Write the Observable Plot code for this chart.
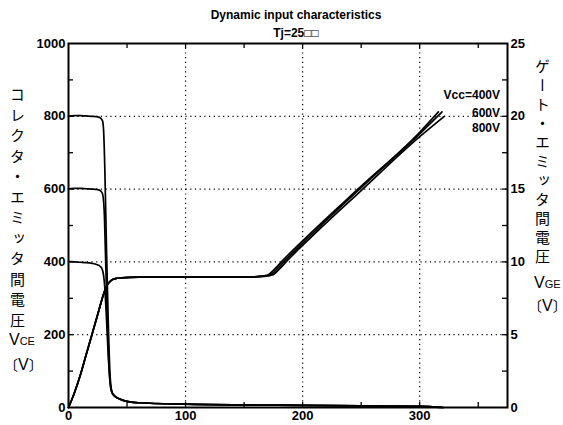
<!DOCTYPE html>
<html>
<head>
<meta charset="utf-8">
<script src="https://cdn.jsdelivr.net/npm/d3@7"></script>
<script src="https://cdn.jsdelivr.net/npm/@observablehq/plot@0.6"></script>
<style>
  body { margin: 0; background: #fff; }
  #wrap { position: relative; width: 563px; height: 425px; overflow: hidden; font-family: "Liberation Sans", Arial, sans-serif; }
  #chart { position: absolute; left: 0; top: 0; }
  .title { position: absolute; left: 0; width: 592px; text-align: center; font-weight: bold; font-size: 12px; color: #000; }
  .vlab { position: absolute; writing-mode: vertical-rl; text-orientation: upright; font-family: "Noto Sans CJK JP", sans-serif; font-size: 15px; color: #000; line-height: 1; }
  .unit { position: absolute; font-family: "Liberation Sans", Arial, sans-serif; font-size: 16px; color: #000; white-space: nowrap; }
  .unit small { font-size: 11px; }
  .br { font-family: "Noto Sans CJK JP", sans-serif; font-size: 14px; }
  .bo { margin-left: -7px; }
  .bc { letter-spacing: -6px; }
  .leg { position: absolute; font-weight: bold; font-size: 12px; text-align: right; color: #000; }
</style>
</head>
<body>
<div id="wrap">
  <div id="chart"></div>
  <div class="title" style="top:8px">Dynamic input characteristics</div>
  <div class="title" style="top:26px">Tj=25□□</div>
  <div class="vlab" style="left:10px; top:87px; letter-spacing:5.5px">コレクタ・エミッタ間電圧</div>
  <div class="unit" style="left:9px; top:331px">V<small>CE</small></div>
  <div class="unit" style="left:11px; top:354px"><span class="br bo">〔</span>V<span class="br bc">〕</span></div>
  <div class="vlab" style="left:535px; top:59px; letter-spacing:4px">ゲート・エミッタ間電圧</div>
  <div class="unit" style="left:534px; top:274px">V<small>GE</small></div>
  <div class="unit" style="left:535px; top:295px"><span class="br bo">〔</span>V<span class="br bc">〕</span></div>
  <div class="leg" style="left:390px; top:88px; width:110px">Vcc=400V</div>
  <div class="leg" style="left:390px; top:106px; width:110px">600V</div>
  <div class="leg" style="left:390px; top:121px; width:110px">800V</div>
</div>
<script>
// Axis ticks
const xTicks = [0, 100, 200, 300];
const xMinor = [50, 100, 150, 200, 250, 300, 350];
const yLeftTicks = [0, 200, 400, 600, 800, 1000];
const yRightTicks = [0, 5, 10, 15, 20, 25];
const yMinor = [100, 200, 300, 400, 500, 600, 700, 800, 900];
const vgeScale = 40; // right axis (V) -> left axis units

// Collector-emitter voltage (left axis)
const vce800_t = [0, 5, 10, 15, 20, 24, 27, 29, 30, 31, 32.5, 34, 35.5, 37, 39, 42, 45, 50, 60, 100, 150, 200, 250, 300, 320];
const vce800_v = [800, 802, 802, 801, 800, 799, 796, 788, 760, 660, 430, 230, 90, 45, 33, 26, 21, 17, 13, 9, 7, 6, 4.5, 3, 0];
const vce600_t = [0, 5, 10, 15, 20, 24, 27, 29, 30.5, 31.5, 33, 34.5, 36, 37.5, 40, 45, 50, 60, 100, 150, 200, 250, 300, 320];
const vce600_v = [601, 602, 602, 601, 600, 599, 596, 588, 540, 430, 260, 120, 55, 38, 30, 22, 17, 13, 9, 7, 6, 4.5, 3, 0];
const vce400_t = [0, 5, 10, 15, 20, 24, 27, 29, 31, 32.5, 34, 35.5, 37, 40, 45, 50, 60, 100, 150, 200, 250, 300, 320];
const vce400_v = [401, 400, 399, 398, 396, 393, 388, 378, 330, 240, 140, 70, 42, 30, 22, 17, 13, 9, 7, 6, 4.5, 3, 0];

// Gate-emitter voltage (right axis, V)
const vge400_t = [0, 5, 10, 15, 20, 25, 30, 33, 36, 40, 45, 60, 100, 150, 163, 170, 176, 183, 202, 250, 300, 316];
const vge400_v = [0, 1.0, 2.2, 3.6, 5.0, 6.4, 7.8, 8.4, 8.7, 8.85, 8.9, 8.95, 8.95, 8.95, 9.0, 9.1, 9.5, 10.1, 11.6, 15.2, 18.9, 20.3];
const vge600_t = [0, 5, 10, 15, 20, 25, 30, 33, 36, 40, 45, 60, 100, 150, 165, 172, 178, 185, 204, 250, 300, 319];
const vge600_v = [0, 1.0, 2.2, 3.6, 5.0, 6.4, 7.8, 8.4, 8.7, 8.85, 8.9, 8.95, 8.95, 8.95, 9.0, 9.1, 9.5, 10.1, 11.6, 15.1, 18.8, 20.3];
const vge800_t = [0, 5, 10, 15, 20, 25, 30, 33, 36, 40, 45, 60, 100, 150, 167, 174, 180, 187, 206, 250, 300, 321];
const vge800_v = [0, 1.0, 2.2, 3.6, 5.0, 6.4, 7.8, 8.4, 8.7, 8.85, 8.9, 8.95, 8.95, 8.95, 9.0, 9.1, 9.5, 10.1, 11.6, 14.9, 18.6, 20.0];

const toRows = (t, v, k = 1) => t.map((x, i) => ({x, y: v[i] * k}));
const vceSeries = [toRows(vce800_t, vce800_v), toRows(vce600_t, vce600_v), toRows(vce400_t, vce400_v)];
const vgeSeries = [toRows(vge400_t, vge400_v, vgeScale), toRows(vge600_t, vge600_v, vgeScale), toRows(vge800_t, vge800_v, vgeScale)];

const W = 563, H = 425, mL = 68, mR = 56, mT = 43, mB = 18;
const pw = W - mL - mR, ph = H - mT - mB;
const tickFont = {fontSize: 13, fontWeight: "bold"};

const chart = Plot.plot({
  width: W, height: H,
  marginLeft: mL, marginRight: mR, marginTop: mT, marginBottom: mB,
  style: {fontFamily: "Liberation Sans, Arial, sans-serif", background: "#fff", color: "#000"},
  x: {domain: [0, 375]},
  y: {domain: [0, 1000]},
  marks: [
    // dotted grid
    Plot.ruleX([100, 200, 300], {stroke: "#000", strokeWidth: 1.2, strokeDasharray: "1.2,3.5"}),
    Plot.ruleY([200, 400, 600, 800], {stroke: "#000", strokeWidth: 1.2, strokeDasharray: "1.2,3.5"}),
    // inward ticks
    Plot.tickX(xMinor, {x: d => d, insetTop: ph - 5, stroke: "#000", strokeWidth: 1.3}),
    Plot.tickX(xMinor, {x: d => d, insetBottom: ph - 5, stroke: "#000", strokeWidth: 1.3}),
    Plot.tickY(yMinor, {y: d => d, insetRight: pw - 5, stroke: "#000", strokeWidth: 1.3}),
    Plot.tickY(yMinor, {y: d => d, insetLeft: pw - 5, stroke: "#000", strokeWidth: 1.3}),
    // curves
    ...vceSeries.map(s => Plot.line(s, {x: "x", y: "y", stroke: "#000", strokeWidth: 1.7, curve: "monotone-x"})),
    ...vgeSeries.map(s => Plot.line(s, {x: "x", y: "y", stroke: "#000", strokeWidth: 1.7, curve: "monotone-x"})),
    Plot.frame({stroke: "#000", strokeWidth: 2}),
    // axes
    Plot.axisX(xTicks, {anchor: "bottom", tickSize: 0, tickPadding: 3, label: null, tickFormat: d3.format("d"), ...tickFont}),
    Plot.axisY(yLeftTicks, {anchor: "left", tickSize: 0, tickPadding: 3, label: null, tickFormat: d3.format("d"), ...tickFont}),
    Plot.axisY(yRightTicks.map(v => v * vgeScale), {anchor: "right", tickSize: 0, tickPadding: 3, label: null, tickFormat: d => d3.format("d")(d / vgeScale), ...tickFont})
  ]
});
document.getElementById("chart").appendChild(chart);
</script>
</body>
</html>
